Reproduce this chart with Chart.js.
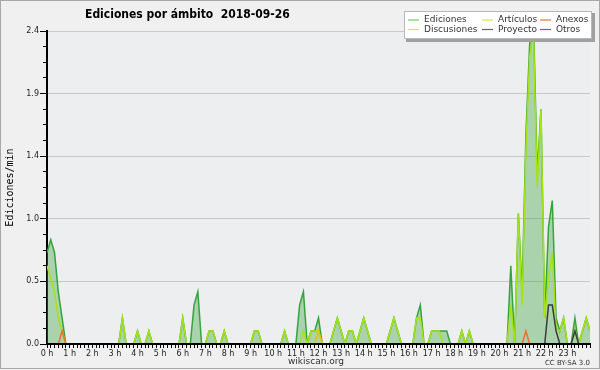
<!DOCTYPE html>
<html>
<head>
<meta charset="utf-8">
<script src="https://cdn.jsdelivr.net/npm/chart.js@4.4.0/dist/chart.umd.min.js"></script>
<style>
  html, body { margin: 0; padding: 0; background: #f0f0f0; }
  #wrap { width: 600px; height: 370px; }
</style>
</head>
<body>
<div id="wrap"><canvas id="myChart" width="600" height="370"></canvas></div>
<script>
// una muestra cada 10 minutos, de 0:00 a 24:00 (145 puntos)
const horas = ['0 h','1 h','2 h','3 h','4 h','5 h','6 h','7 h','8 h','9 h','10 h','11 h',
               '12 h','13 h','14 h','15 h','16 h','17 h','18 h','19 h','20 h','21 h','22 h','23 h'];
const slots = Array.from({ length: 145 }, (_, i) => i);

// ediciones/min, cada fila = 2 horas
const ediciones = [
  0.7,0.8,0.7,0.4,0.2,0,0,0,0,0,0,0,
  0,0,0,0,0,0,0,0,0.2,0,0,0,
  0.1,0,0,0.1,0,0,0,0,0,0,0,0,
  0.2,0,0,0.3,0.4,0,0,0.1,0.1,0,0,0.1,
  0,0,0,0,0,0,0,0.1,0.1,0,0,0,
  0,0,0,0.1,0,0,0,0.3,0.4,0,0.1,0.1,
  0.2,0,0,0,0.1,0.2,0.1,0,0.1,0.1,0,0.1,
  0.2,0.1,0,0,0,0,0,0.1,0.2,0.1,0,0,
  0,0,0.2,0.3,0,0,0.1,0.1,0.1,0.1,0.1,0,
  0,0,0.1,0,0.1,0,0,0,0,0,0,0,
  0,0,0,0.6,0,1.0,0.4,1.6,2.3,2.5,1.3,1.8,
  0.2,0.9,1.1,0.2,0.1,0.2,0,0,0.2,0,0.1,0.2,
  0.1
];
const articulos = [
  0.6,0.5,0.4,0.2,0.1,0,0,0,0,0,0,0,
  0,0,0,0,0,0,0,0,0.2,0,0,0,
  0.1,0,0,0.1,0,0,0,0,0,0,0,0,
  0.2,0,0,0,0,0,0,0.1,0.1,0,0,0.1,
  0,0,0,0,0,0,0,0.1,0.1,0,0,0,
  0,0,0,0.1,0,0,0,0,0.1,0,0.1,0.1,
  0.1,0,0,0,0.1,0.2,0.1,0,0.1,0.1,0,0.1,
  0.2,0.1,0,0,0,0,0,0.1,0.2,0.1,0,0,
  0,0,0.2,0.2,0,0,0.1,0.1,0.1,0,0,0,
  0,0,0.1,0,0.1,0,0,0,0,0,0,0,
  0,0,0,0.3,0,1.0,0.3,1.5,2.2,2.4,1.2,1.8,
  0.2,0.5,0.7,0.1,0.1,0.2,0,0,0.1,0,0.1,0.2,
  0.1
];
const anexos = [
  0,0,0,0,0.1,0,0,0,0,0,0,0,
  0,0,0,0,0,0,0,0,0,0,0,0,
  0,0,0,0,0,0,0,0,0,0,0,0,
  0,0,0,0,0,0,0,0,0,0,0,0,
  0,0,0,0,0,0,0,0,0,0,0,0,
  0,0,0,0,0,0,0,0,0,0,0,0,
  0,0,0,0,0,0,0,0,0,0,0,0,
  0,0,0,0,0,0,0,0,0,0,0,0,
  0,0,0,0,0,0,0,0,0,0,0,0,
  0,0,0,0,0,0,0,0,0,0,0,0,
  0,0,0,0,0,0,0,0.1,0,0,0,0,
  0,0,0,0,0,0,0,0,0,0,0,0,
  0
];
const discusiones = [
  0,0,0,0,0,0,0,0,0,0,0,0,
  0,0,0,0,0,0,0,0,0,0,0,0,
  0,0,0,0,0,0,0,0,0,0,0,0,
  0,0,0,0,0,0,0,0,0,0,0,0,
  0,0,0,0,0,0,0,0,0,0,0,0,
  0,0,0,0,0,0,0,0,0,0,0,0,
  0.1,0,0,0,0,0,0,0,0,0,0,0,
  0,0,0,0,0,0,0,0,0,0,0,0,
  0,0,0,0,0,0,0,0,0,0,0,0,
  0,0,0,0,0,0,0,0,0,0,0,0,
  0,0,0,0,0,0,0,0,0,0,0,0,
  0,0,0,0,0,0,0,0,0,0,0,0,
  0
];
const proyecto = [
  0,0,0,0,0,0,0,0,0,0,0,0,
  0,0,0,0,0,0,0,0,0,0,0,0,
  0,0,0,0,0,0,0,0,0,0,0,0,
  0,0,0,0,0,0,0,0,0,0,0,0,
  0,0,0,0,0,0,0,0,0,0,0,0,
  0,0,0,0,0,0,0,0,0,0,0,0,
  0,0,0,0,0,0,0,0,0,0,0,0,
  0,0,0,0,0,0,0,0,0,0,0,0,
  0,0,0,0,0,0,0,0,0,0,0,0,
  0,0,0,0,0,0,0,0,0,0,0,0,
  0,0,0,0,0,0,0,0,0,0,0,0,
  0,0.3,0.3,0.1,0,0,0,0,0.1,0,0,0,
  0
];
const otros = [
  0,0,0,0,0,0,0,0,0,0,0,0,
  0,0,0,0,0,0,0,0,0,0,0,0,
  0,0,0,0,0,0,0,0,0,0,0,0,
  0,0,0,0,0,0,0,0,0,0,0,0,
  0,0,0,0,0,0,0,0,0,0,0,0,
  0,0,0,0,0,0,0,0,0,0,0,0,
  0,0,0,0,0,0,0,0,0,0,0,0,
  0,0,0,0,0,0,0,0,0,0,0,0,
  0,0,0,0,0,0,0,0,0,0,0,0,
  0,0,0,0,0,0,0,0,0,0,0,0,
  0,0,0,0,0,0,0,0,0,0,0,0,
  0,0,0,0,0,0,0,0,0,0,0,0,
  0
];

const titulo = 'Ediciones por ámbito  2018-09-26';

function serie(label, data, color, order, extra) {
  return Object.assign({
    label: label,
    data: data,
    borderColor: color,
    backgroundColor: color,
    borderWidth: 1.5,
    pointRadius: 0,
    tension: 0,
    fill: false,
    order: order
  }, extra || {});
}

// fondo, título, leyenda y pie dibujados a mano
const decoracion = {
  id: 'decoracion',
  beforeDraw(chart) {
    const c = chart.ctx, a = chart.chartArea;
    c.save();
    c.fillStyle = '#f0f0f0';
    c.fillRect(0, 0, chart.width, chart.height);
    c.fillStyle = '#edeef0';
    c.fillRect(a.left, a.top, a.right - a.left, a.bottom - a.top);
    c.restore();
  },
  afterDraw(chart) {
    const c = chart.ctx;
    c.save();
    // titulo: el original es estrecho, se ajusta el tamaño al ancho
    c.fillStyle = '#000';
    let size = 12;
    c.font = 'bold ' + size + 'px "DejaVu Sans Condensed", "DejaVu Sans"';
    while (c.measureText(titulo).width > 206 && size > 9) {
      size -= 0.5;
      c.font = 'bold ' + size + 'px "DejaVu Sans Condensed", "DejaVu Sans"';
    }
    c.textAlign = 'left';
    c.textBaseline = 'alphabetic';
    c.fillText(titulo, 85, 18);

    // leyenda
    c.fillStyle = '#a0a0a0';
    c.fillRect(406, 13, 189, 29);
    c.fillStyle = '#ffffff';
    c.fillRect(404, 11, 188, 28);
    c.strokeStyle = '#b8b8b8';
    c.lineWidth = 1;
    c.strokeRect(404.5, 11.5, 187, 27);
    const cols = [408, 482, 540];
    const filas = [20, 29.5];
    c.font = '9px "DejaVu Sans"';
    c.textBaseline = 'middle';
    chart.data.datasets.forEach((ds, k) => {
      const x = cols[k % 3], y = filas[Math.floor(k / 3)];
      c.strokeStyle = ds.legendColor || ds.borderColor;
      c.lineWidth = 1.2;
      c.beginPath();
      c.moveTo(x, y);
      c.lineTo(x + 11, y);
      c.stroke();
      c.fillStyle = '#333';
      c.fillText(ds.label, x + 16, y);
    });

    // pie
    c.textBaseline = 'alphabetic';
    c.textAlign = 'center';
    c.fillStyle = '#333';
    c.font = '9px "DejaVu Sans"';
    c.fillText('wikiscan.org', 316, 364);
    c.textAlign = 'right';
    c.font = '7px "DejaVu Sans"';
    c.fillText('CC BY-SA 3.0', 590, 365);

    // marco
    c.strokeStyle = '#a8a8a8';
    c.lineWidth = 1;
    c.strokeRect(0.5, 0.5, chart.width - 1, chart.height - 2);
    c.restore();
  }
};

const ctx = document.getElementById('myChart').getContext('2d');
const myChart = new Chart(ctx, {
  type: 'line',
  data: {
    labels: slots,
    datasets: [
      serie('Ediciones', ediciones, '#33a53c', 10, { fill: 'origin', backgroundColor: 'rgba(60,165,60,0.38)', legendColor: '#6ccf6c' }),
      serie('Artículos', articulos, '#a6e312', 5, { legendColor: '#c8f040' }),
      serie('Anexos', anexos, '#f0702c', 1),
      serie('Discusiones', discusiones, '#efbf00', 2, { legendColor: '#ffd84a' }),
      serie('Proyecto', proyecto, '#3c3c3c', 3, { legendColor: '#666666' }),
      serie('Otros', otros, '#9040f0', 0)
    ]
  },
  options: {
    responsive: false,
    animation: false,
    layout: { padding: { top: 31, right: 10, left: 0, bottom: 0 } },
    plugins: {
      legend: { display: false },
      tooltip: { enabled: false },
      title: { display: false }
    },
    scales: {
      x: {
        type: 'linear',
        min: 0,
        max: 144,
        afterFit(scale) { scale.height = 26; },
        border: { color: '#000', width: 2, z: 1 },
        grid: { drawOnChartArea: false, tickLength: 4, tickColor: '#000', tickWidth: 1 },
        ticks: {
          stepSize: 1,
          autoSkip: false,
          maxRotation: 0,
          padding: 1,
          color: '#222',
          font: { family: 'DejaVu Sans', size: 8 },
          callback: (v) => (v % 6 === 0 && v < 144) ? horas[v / 6] : ''
        }
      },
      y: {
        min: 0,
        max: 2.4,
        afterFit(scale) { scale.width = 47; },
        border: { color: '#000', width: 2 },
        grid: {
          color: (c) => (c.index % 4 === 0 && c.index > 0) ? '#c8c8c8' : 'rgba(0,0,0,0)',
          tickColor: '#000',
          tickLength: 7,
          tickBorderDash: (c) => (c.index % 4 === 0) ? [] : [0, 3, 4, 0]
        },
        ticks: {
          stepSize: 0.12,
          padding: 1,
          color: '#222',
          font: { family: 'DejaVu Sans', size: 8 },
          callback: (v, i) => (i % 4 === 0) ? v.toFixed(1) : ''
        },
        title: {
          display: true,
          text: 'Ediciones/min',
          color: '#000',
          font: { family: 'DejaVu Sans Mono', size: 10 },
          padding: { top: 4, bottom: 0 }
        }
      }
    }
  },
  plugins: [decoracion]
});
</script>
</body>
</html>
